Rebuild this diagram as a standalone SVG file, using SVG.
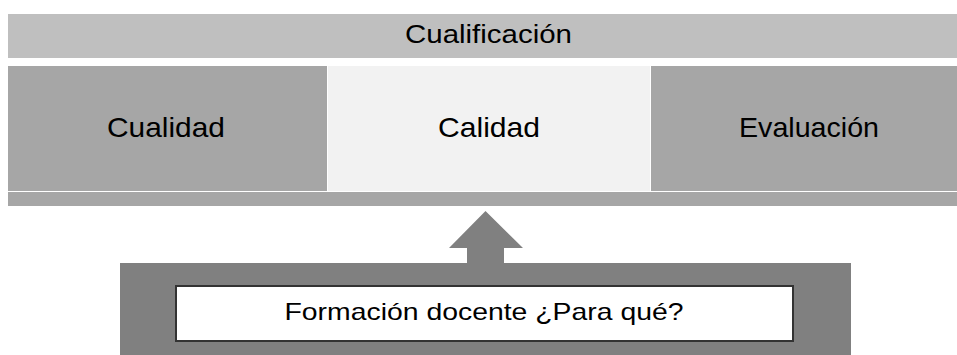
<svg xmlns="http://www.w3.org/2000/svg" width="957" height="355" viewBox="0 0 957 355">
<style>
.t{font-family:"Liberation Sans","DejaVu Sans",sans-serif;fill:#000;text-anchor:middle}
.mid{fill:#a6a6a6}
</style>
<rect width="957" height="355" fill="#ffffff"/>
<g id="cualificacion">
<rect x="8" y="14" width="949" height="44" fill="#bfbfbf"/>
<text class="t" x="488.5" y="43" font-size="26" textLength="167" lengthAdjust="spacingAndGlyphs">Cualificación</text>
</g>
<g id="cualidad">
<rect class="mid" x="8" y="66" width="319" height="125"/>
<text class="t" x="166" y="137" font-size="28" textLength="118" lengthAdjust="spacingAndGlyphs">Cualidad</text>
</g>
<g id="calidad">
<rect x="328" y="66" width="322" height="125" fill="#f2f2f2"/>
<text class="t" x="489" y="137" font-size="28" textLength="102" lengthAdjust="spacingAndGlyphs">Calidad</text>
</g>
<g id="evaluacion">
<rect class="mid" x="651" y="66" width="306" height="125"/>
<text class="t" x="809" y="137" font-size="28" textLength="140" lengthAdjust="spacingAndGlyphs">Evaluación</text>
</g>
<g id="base">
<rect class="mid" x="8" y="192" width="949" height="14"/>
</g>
<g id="connectors">
<polygon points="485.5,211 523,248 504,248 504,264 467,264 467,248 449,248" fill="#808080"/>
</g>
<g id="formacion">
<rect x="120" y="263" width="731" height="92" fill="#808080"/>
<rect x="176" y="286" width="617" height="55" fill="#ffffff" stroke="#333333" stroke-width="2"/>
<text class="t" x="484" y="320" font-size="24" textLength="399" lengthAdjust="spacingAndGlyphs">Formación docente ¿Para qué?</text>
</g>
</svg>
